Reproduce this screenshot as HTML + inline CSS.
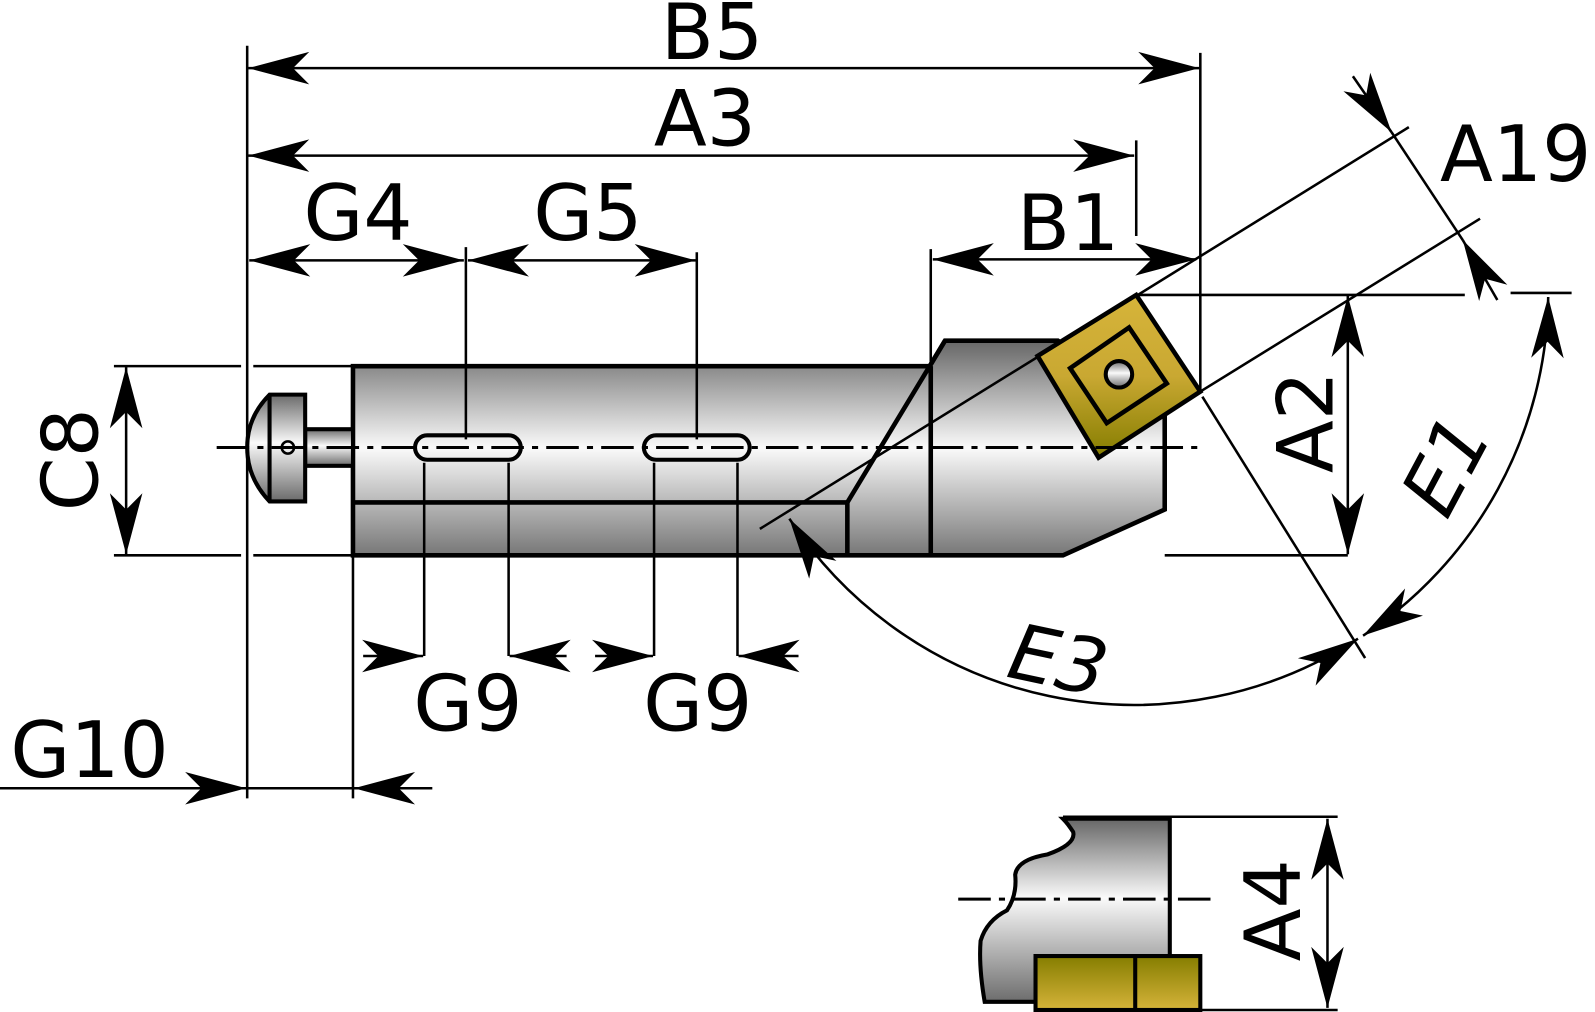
<!DOCTYPE html>
<html><head><meta charset="utf-8"><style>
html,body{margin:0;padding:0;background:#fff;}
svg{display:block}
text{font-family:"DejaVu Sans","Liberation Sans",sans-serif;font-size:76px;fill:#000}
</style></head><body>
<svg width="1595" height="1012" viewBox="0 0 1568 995" preserveAspectRatio="none" xmlns="http://www.w3.org/2000/svg">
<defs>
<linearGradient id="g" x1="0" y1="0" x2="0" y2="1">
<stop offset="0" stop-color="#6a6a6a"/><stop offset="0.45" stop-color="#fafafa"/><stop offset="1" stop-color="#6a6a6a"/>
</linearGradient>
<linearGradient id="gb" gradientUnits="userSpaceOnUse" x1="0" y1="335" x2="0" y2="546">
<stop offset="0" stop-color="#666"/><stop offset="0.5" stop-color="#fafafa"/><stop offset="1" stop-color="#777"/>
</linearGradient>
<linearGradient id="gold" x1="0" y1="0" x2="0" y2="1">
<stop offset="0" stop-color="#d6b43a"/><stop offset="0.5" stop-color="#c9a832"/><stop offset="1" stop-color="#857d00"/>
</linearGradient>
<linearGradient id="gold2" x1="0" y1="0" x2="0" y2="1">
<stop offset="0" stop-color="#857d00"/><stop offset="1" stop-color="#d6b43a"/>
</linearGradient>
<linearGradient id="gs" gradientUnits="userSpaceOnUse" x1="0" y1="805" x2="0" y2="990">
<stop offset="0" stop-color="#666"/><stop offset="0.42" stop-color="#fafafa"/><stop offset="1" stop-color="#666"/>
</linearGradient>
<marker id="a" markerUnits="userSpaceOnUse" markerWidth="80" markerHeight="40" refX="0" refY="0" viewBox="-62 -20 64 40" orient="auto-start-reverse">
<path d="M0,0 L-60,-16 L-44,0 L-60,16 Z" fill="#000"/>
</marker>
</defs>

<!-- body -->
<path d="M347,360 L914,360 L929,335 L1040,335 L1145,410 L1145,501 L1045,546 L347,546 Z" fill="url(#gb)" stroke="#000" stroke-width="4.5"/>
<g stroke="#000" stroke-width="4.5" fill="none">
<line x1="929" y1="335" x2="833" y2="494"/>
<line x1="347" y1="494" x2="833" y2="494"/>
<line x1="833" y1="494" x2="833" y2="546"/>
<line x1="915" y1="360" x2="915" y2="546"/>
</g>
<!-- pin -->
<rect x="300" y="422" width="47" height="36" fill="url(#g)" stroke="#000" stroke-width="4"/>
<path d="M265,388 L300,388 L300,493 L265,493 Q243,470 243,440 Q243,410 265,388 Z" fill="url(#g)" stroke="#000" stroke-width="4"/>
<line x1="265" y1="388" x2="265" y2="493" stroke="#000" stroke-width="4"/>
<circle cx="283" cy="440" r="6" fill="none" stroke="#000" stroke-width="2.5"/>
<!-- slots -->
<rect x="408" y="428" width="104" height="24" rx="12" fill="none" stroke="#000" stroke-width="4"/>
<rect x="633" y="428" width="104" height="24" rx="12" fill="none" stroke="#000" stroke-width="4"/>
<!-- insert -->
<path d="M1117,290 L1180,385 L1080,450 L1020,350 Z" fill="url(#gold)" stroke="#000" stroke-width="4.5"/>
<path d="M1110,322 L1147,377 L1088,416 L1052,362 Z" fill="none" stroke="#000" stroke-width="4.5"/>
<circle cx="1100" cy="368" r="13" fill="url(#g)" stroke="#000" stroke-width="4"/>

<!-- section view -->
<path d="M1045,805 L1150,805 L1150,940 L1018,940 L1018,985 L968,985 Q962,950 964,925 Q970,905 990,895 Q1000,880 998,860 Q1000,845 1030,840 Q1058,830 1055,818 Q1050,810 1045,805 Z" fill="url(#gs)" stroke="#000" stroke-width="4"/>
<rect x="1018" y="940" width="162" height="53" fill="url(#gold2)" stroke="#000" stroke-width="4"/>
<line x1="1116" y1="940" x2="1116" y2="993" stroke="#000" stroke-width="4"/>

<!-- centerlines -->
<g stroke="#000" stroke-width="3" stroke-dasharray="32,8,6,8" fill="none">
<line x1="213" y1="440" x2="1185" y2="440"/>
<line x1="942" y1="884" x2="1195" y2="884"/>
</g>

<!-- thin lines -->
<g stroke="#000" stroke-width="2.5" fill="none">
<line x1="243" y1="45" x2="243" y2="785"/>
<line x1="1180" y1="52" x2="1180" y2="385"/>
<line x1="1117" y1="138" x2="1117" y2="232"/>
<line x1="458" y1="243" x2="458" y2="432"/>
<line x1="685" y1="248" x2="685" y2="432"/>
<line x1="915" y1="245" x2="915" y2="360"/>
<line x1="1117" y1="290" x2="1440" y2="290"/>
<line x1="1485" y1="288" x2="1545" y2="288"/>
<line x1="1145" y1="546" x2="1325" y2="546"/>
<line x1="112" y1="360" x2="237" y2="360"/>
<line x1="249" y1="360" x2="347" y2="360"/>
<line x1="112" y1="546" x2="237" y2="546"/>
<line x1="249" y1="546" x2="347" y2="546"/>
<line x1="747" y1="520" x2="1385" y2="125"/>
<line x1="1180" y1="385" x2="1455" y2="215"/>
<line x1="1182" y1="390" x2="1342" y2="647"/>
<line x1="417" y1="455" x2="417" y2="645"/>
<line x1="500" y1="455" x2="500" y2="645"/>
<line x1="643" y1="455" x2="643" y2="645"/>
<line x1="725" y1="455" x2="725" y2="645"/>
<line x1="347" y1="546" x2="347" y2="785"/>
<line x1="1045" y1="803" x2="1315" y2="803"/>
<line x1="1180" y1="993" x2="1315" y2="993"/>
</g>
<!-- dimension lines w/ arrows -->
<g stroke="#000" stroke-width="2.5" fill="none" marker-start="url(#a)" marker-end="url(#a)">
<line x1="244" y1="67" x2="1179" y2="67"/>
<line x1="244" y1="153" x2="1115" y2="153"/>
<line x1="245" y1="256" x2="456" y2="256"/>
<line x1="460" y1="256" x2="684" y2="256"/>
<line x1="917" y1="255" x2="1176" y2="255"/>
<line x1="1325" y1="291" x2="1325" y2="545"/>
<line x1="124" y1="361" x2="124" y2="545"/>
<line x1="1305" y1="805" x2="1305" y2="991"/>
<path d="M776,510 A405,405 0 0 0 1335,628"/>
<path d="M1522,292 A405,405 0 0 1 1340,625"/>
</g>
<g stroke="#000" stroke-width="2.5" fill="none" marker-end="url(#a)">
<line x1="357" y1="645" x2="416" y2="645"/>
<line x1="557" y1="645" x2="501" y2="645"/>
<line x1="585" y1="645" x2="642" y2="645"/>
<line x1="785" y1="645" x2="726" y2="645"/>
<line x1="0" y1="775" x2="242" y2="775"/>
<line x1="425" y1="775" x2="348" y2="775"/>
<line x1="243" y1="775" x2="347" y2="775" marker-end="none"/>
<line x1="1330" y1="75" x2="1368" y2="130"/>
<line x1="1472" y1="295" x2="1438" y2="236"/>
<line x1="1368" y1="130" x2="1438" y2="236" marker-end="none"/>
</g>

<!-- labels -->
<text x="700" y="58" text-anchor="middle">B5</text>
<text x="693" y="143" text-anchor="middle">A3</text>
<text x="352" y="236" text-anchor="middle">G4</text>
<text x="578" y="236" text-anchor="middle">G5</text>
<text x="1050" y="246" text-anchor="middle">B1</text>
<text x="1490" y="178" text-anchor="middle">A19</text>
<text x="460" y="718" text-anchor="middle">G9</text>
<text x="686" y="718" text-anchor="middle">G9</text>
<text x="88" y="764" text-anchor="middle">G10</text>
<text transform="translate(96,452) rotate(-90)" text-anchor="middle">C8</text>
<text transform="translate(1310,415) rotate(-90)" text-anchor="middle">A2</text>
<text transform="translate(1278,895) rotate(-90)" text-anchor="middle">A4</text>
<text transform="translate(1445,470) rotate(-62)" text-anchor="middle" font-style="italic">E1</text>
<text transform="translate(1035,675) rotate(12)" text-anchor="middle" font-style="italic">E3</text>
</svg>
</body></html>
